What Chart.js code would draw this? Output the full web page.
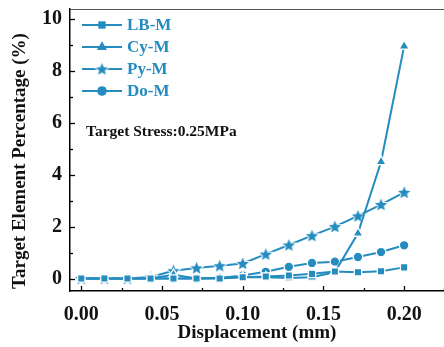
<!DOCTYPE html>
<html>
<head>
<meta charset="utf-8">
<script src="https://cdn.jsdelivr.net/npm/chart.js@4/dist/chart.umd.min.js"></script>
<style>
  html, body { margin: 0; padding: 0; background: #ffffff; }
  #wrap { width: 444px; height: 347px; position: relative; }
</style>
</head>
<body>
<div id="wrap"><canvas id="c"></canvas></div>
<script>
// ---- data ----
const displacement = [0, 0.0143, 0.0286, 0.0429, 0.0571, 0.0714, 0.0857, 0.1, 0.1143, 0.1286, 0.1429, 0.1571, 0.1714, 0.1857, 0.2];
const lbM = [0, 0, 0, 0, 0, 0, 0, 0.05, 0.08, 0.12, 0.18, 0.27, 0.24, 0.28, 0.43];
const cyM = [0, 0, 0, 0, 0.15, 0, 0.03, 0.05, 0.05, 0.02, 0.05, 0.25, 1.74, 4.5, 8.95];
const pyM = [0, 0, 0, 0.06, 0.3, 0.41, 0.49, 0.58, 0.94, 1.29, 1.65, 2.0, 2.41, 2.85, 3.32];
const doM = [0, 0, 0, 0, 0, 0, 0.02, 0.12, 0.26, 0.45, 0.6, 0.65, 0.83, 1.02, 1.28];
const seriesNames = ['LB-M', 'Cy-M', 'Py-M', 'Do-M'];

const xMajorTicks = [0, 0.05, 0.10, 0.15, 0.20];
const xTickLabels = ['0.00', '0.05', '0.10', '0.15', '0.20'];
const xMinorTicks = [0.025, 0.075, 0.125, 0.175, 0.225];
const yMajorTicks = [0, 2, 4, 6, 8, 10];
const yTickLabels = ['0', '2', '4', '6', '8', '10'];
const yMinorTicks = [1, 3, 5, 7, 9];

const xTitle = 'Displacement (mm)';
const yTitle = 'Target Element Percentage (%)';
const noteText = 'Target Stress:0.25MPa';

// ---- style ----
const BLUE = '#248cbe';
const FONT = "'Liberation Serif', 'Times New Roman', serif";

function makeStar(r) {
  const pad = 2;
  const s = Math.ceil(2 * r + 2 * pad);
  const cv = document.createElement('canvas');
  cv.width = s; cv.height = s;
  const g = cv.getContext('2d');
  const cx = s / 2, cy = s / 2 + 0.5;
  g.beginPath();
  for (let i = 0; i < 10; i++) {
    const rr = i % 2 === 0 ? r : r * 0.45;
    const a = -Math.PI / 2 + i * Math.PI / 5;
    const px = cx + rr * Math.cos(a), py = cy + rr * Math.sin(a);
    if (i === 0) g.moveTo(px, py); else g.lineTo(px, py);
  }
  g.closePath();
  g.lineWidth = 2;
  g.strokeStyle = '#ffffff';
  g.stroke();
  g.fillStyle = BLUE;
  g.fill();
  return cv;
}
const starImg = makeStar(6.5);

const styles = [
  { pointStyle: 'rect', radius: 5.2 },
  { pointStyle: 'triangle', radius: 5.8 },
  { pointStyle: starImg, radius: 6 },
  { pointStyle: 'circle', radius: 4.8 }
];
const seriesValues = [lbM, cyM, pyM, doM];

const datasets = seriesNames.map((name, i) => ({
  label: name,
  data: displacement.map((x, j) => ({ x: x, y: seriesValues[i][j] })),
  borderColor: BLUE,
  backgroundColor: BLUE,
  borderWidth: 2,
  pointStyle: styles[i].pointStyle,
  pointRadius: styles[i].radius,
  pointHoverRadius: styles[i].radius,
  pointBorderColor: '#ffffff',
  pointBorderWidth: 1.3,
  pointBackgroundColor: BLUE,
  tension: 0
}));

// plugin: inward ticks, top frame, y title, in-plot legend and note
const decor = {
  id: 'decor',
  afterDraw(chart) {
    const ctx = chart.ctx;
    const a = chart.chartArea;
    const xs = chart.scales.x, ys = chart.scales.y;
    ctx.save();
    // top frame
    ctx.strokeStyle = '#555';
    ctx.lineWidth = 1;
    ctx.beginPath();
    ctx.moveTo(a.left, a.top + 0.5);
    ctx.lineTo(a.right, a.top + 0.5);
    ctx.stroke();
    // ticks
    ctx.strokeStyle = '#000';
    ctx.lineWidth = 1.3;
    const tk = (list, len, isX) => {
      list.forEach(v => {
        ctx.beginPath();
        if (isX) {
          const px = Math.round(xs.getPixelForValue(v)) + 0.5;
          ctx.moveTo(px, a.bottom); ctx.lineTo(px, a.bottom - len);
        } else {
          const py = Math.round(ys.getPixelForValue(v)) + 0.5;
          ctx.moveTo(a.left, py); ctx.lineTo(a.left + len, py);
        }
        ctx.stroke();
      });
    };
    tk(xMajorTicks, 5, true);
    tk(xMinorTicks, 3, true);
    tk(yMajorTicks, 5, false);
    tk(yMinorTicks, 3, false);

    // y axis title
    ctx.save();
    ctx.translate(20, (a.top + a.bottom) / 2 + 11);
    ctx.rotate(-Math.PI / 2);
    ctx.fillStyle = '#111';
    ctx.font = "bold 19px " + FONT;
    ctx.textAlign = 'center';
    ctx.textBaseline = 'middle';
    ctx.fillText(yTitle, 0, 0);
    ctx.restore();

    // legend
    const lx0 = a.left + 12, lx1 = a.left + 52, tx = a.left + 57;
    chart.data.datasets.forEach((ds, i) => {
      const y = a.top + 16 + i * 22;
      ctx.strokeStyle = BLUE;
      ctx.lineWidth = 2;
      ctx.beginPath();
      ctx.moveTo(lx0, y); ctx.lineTo(lx1, y);
      ctx.stroke();
      ctx.fillStyle = BLUE;
      Chart.helpers.drawPoint(ctx, {
        pointStyle: ds.pointStyle, radius: ds.pointRadius, rotation: 0,
        borderWidth: 0
      }, (lx0 + lx1) / 2, y);
      ctx.fillStyle = BLUE;
      ctx.font = "bold 17px " + FONT;
      ctx.textAlign = 'left';
      ctx.textBaseline = 'middle';
      ctx.fillText(ds.label, tx, y + 1);
    });

    // note
    ctx.fillStyle = '#111';
    ctx.font = "bold 15.5px " + FONT;
    ctx.textAlign = 'left';
    ctx.textBaseline = 'middle';
    ctx.fillText(noteText, a.left + 16, a.top + 123);
    ctx.restore();
  }
};

new Chart(document.getElementById('c'), {
  type: 'line',
  data: { datasets: datasets },
  plugins: [decor],
  options: {
    responsive: true,
    maintainAspectRatio: false,
    animation: false,
    layout: { autoPadding: false, padding: { top: 9, right: 0, bottom: 0, left: 0 } },
    plugins: { legend: { display: false }, tooltip: { enabled: false } },
    scales: {
      x: {
        type: 'linear',
        min: -0.007,
        max: 0.2247,
        afterBuildTicks: (s) => { s.ticks = xMajorTicks.map(v => ({ value: v })); },
        afterFit: (s) => { s.height = 56; s.paddingLeft = 0; s.paddingRight = 0; },
        grid: { display: false, drawTicks: false },
        border: { display: true, color: '#000', width: 1.5 },
        ticks: {
          padding: 12,
          color: '#111',
          font: { family: FONT, size: 20, weight: 'bold' },
          maxRotation: 0,
          callback: (v, i) => xTickLabels[i]
        },
        title: {
          display: true, text: xTitle, color: '#111',
          font: { family: FONT, size: 19, weight: 'bold' },
          padding: { top: 0, bottom: 3 }
        }
      },
      y: {
        min: -0.48,
        max: 10.38,
        afterBuildTicks: (s) => { s.ticks = yMajorTicks.map(v => ({ value: v })); },
        afterFit: (s) => { s.width = 70; s.paddingTop = 0; s.paddingBottom = 0; },
        grid: { display: false, drawTicks: false },
        border: { display: true, color: '#000', width: 1.5 },
        ticks: {
          padding: 8,
          color: '#111',
          font: { family: FONT, size: 20, weight: 'bold' },
          callback: (v, i) => yTickLabels[i]
        },
        title: { display: false }
      }
    }
  }
});
</script>
</body>
</html>
